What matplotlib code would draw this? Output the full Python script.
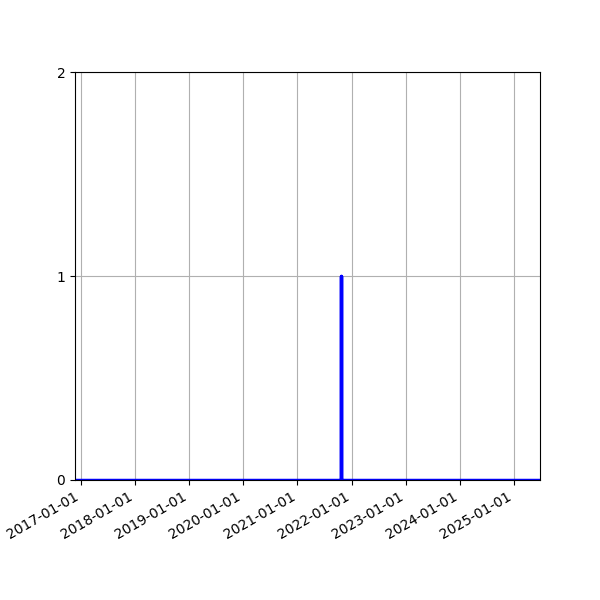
import matplotlib
matplotlib.use('Agg')
import matplotlib.pyplot as plt
import matplotlib.dates as mdates
import pandas as pd

dates = pd.to_datetime(['2016-11-22', '2021-10-19', '2021-10-19', '2021-10-19', '2025-06-25'])
values = [0, 0, 1, 0, 0]

fig, ax = plt.subplots(figsize=(6, 6), dpi=100)

ax.plot(dates, values, color='blue', linewidth=2.5)

ax.set_xlim(dates[0], dates[-1])
ax.set_ylim(0, 2)
ax.set_yticks([0, 1, 2])
ax.xaxis.set_major_locator(mdates.YearLocator())
ax.xaxis.set_major_formatter(mdates.DateFormatter('%Y-%m-%d'))
ax.grid(True)
fig.autofmt_xdate()

fig.savefig('out.png', dpi=100)
